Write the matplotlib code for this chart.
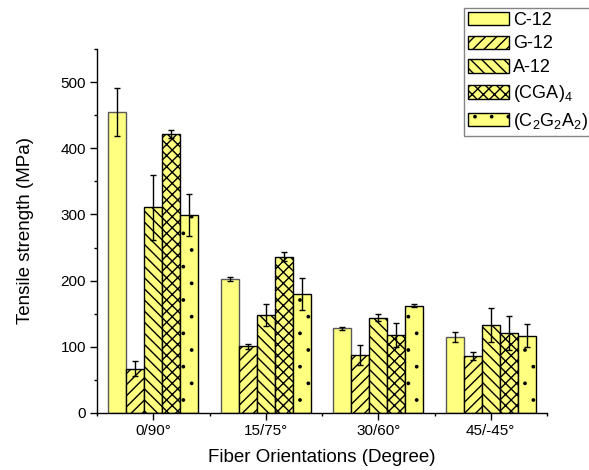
import numpy as np
import matplotlib
matplotlib.use("Agg")
import matplotlib.pyplot as plt
import matplotlib.hatch as mhatch
from matplotlib.ticker import MultipleLocator, FixedLocator

plt.rcParams['font.family'] = ['Liberation Sans', 'DejaVu Sans']
plt.rcParams['mathtext.fontset'] = 'custom'
plt.rcParams['mathtext.rm'] = 'Liberation Sans'
plt.rcParams['mathtext.it'] = 'Liberation Sans:italic'
plt.rcParams['hatch.linewidth'] = 1.0
# smaller dots for the '.' hatch
mhatch.SmallFilledCircles.size = 0.07

# data
orientations = ["0/90°", "15/75°", "30/60°", "45/-45°"]
series = ["C-12", "G-12", "A-12", "(CGA)$_4$", "(C$_2$G$_2$A$_2$)"]
c12 = [455, 203, 128, 115]
g12 = [67, 101, 88, 86]
a12 = [311, 148, 144, 133]
cga4 = [421, 236, 118, 121]
c2g2a2 = [299, 180, 162, 117]
c12_err = [36, 3, 2, 8]
g12_err = [11, 4, 15, 6]
a12_err = [49, 16, 5, 26]
cga4_err = [6, 7, 18, 26]
c2g2a2_err = [32, 24, 2, 17]

values = [c12, g12, a12, cga4, c2g2a2]
errors = [c12_err, g12_err, a12_err, cga4_err, c2g2a2_err]
hatches = [None, '///', '\\\\\\', 'xxx', '.']
edges = ['0.35', 'k', 'k', 'k', 'k']
fill = '#ffff80'

fig = plt.figure(figsize=(5.89, 4.70), dpi=100)
ax = fig.add_axes([97/589, 1-413/470, 450/589, 364/470])

x = np.arange(1, len(orientations)+1)
w = 0.16
for i in range(len(series)):
    pos = x + (i-2)*w
    ax.bar(pos, values[i], width=w, color=fill, edgecolor=edges[i], linewidth=1.0,
           hatch=hatches[i], label=series[i], zorder=2)
    ax.errorbar(pos, values[i], yerr=errors[i], fmt='none', ecolor='k',
                elinewidth=1.0, capsize=2.3, capthick=1.0, zorder=3)

ax.set_xlim(0.5, 4.5)
ax.set_ylim(0, 550)
ax.set_xticks(x)
ax.set_xticklabels(orientations)
ax.xaxis.set_minor_locator(FixedLocator([0.5, 1.5, 2.5, 3.5, 4.5]))
ax.yaxis.set_major_locator(MultipleLocator(100))
ax.yaxis.set_minor_locator(MultipleLocator(50))
ax.tick_params(which='major', direction='out', length=5, width=1, labelsize=11, pad=3)
ax.tick_params(which='minor', direction='out', length=2.5, width=1)
for s in ['top', 'right']:
    ax.spines[s].set_visible(False)
for s in ['left', 'bottom']:
    ax.spines[s].set_linewidth(1.0)

ax.set_ylabel("Tensile strength (MPa)", fontsize=13.5, labelpad=19)
ax.set_xlabel("Fiber Orientations (Degree)", fontsize=13.5, labelpad=8)

leg = fig.legend(loc='upper left', bbox_to_anchor=(464/589, 1-8/470), borderaxespad=0,
                 fontsize=13, frameon=True, fancybox=False, edgecolor='0.4',
                 handlelength=2.3, handleheight=0.75, handletextpad=0.2,
                 labelspacing=0.38, borderpad=0.2)
leg.get_frame().set_linewidth(1.0)
for h in leg.legend_handles:
    h.set_edgecolor('k')

fig.savefig("out.png", dpi=100)
